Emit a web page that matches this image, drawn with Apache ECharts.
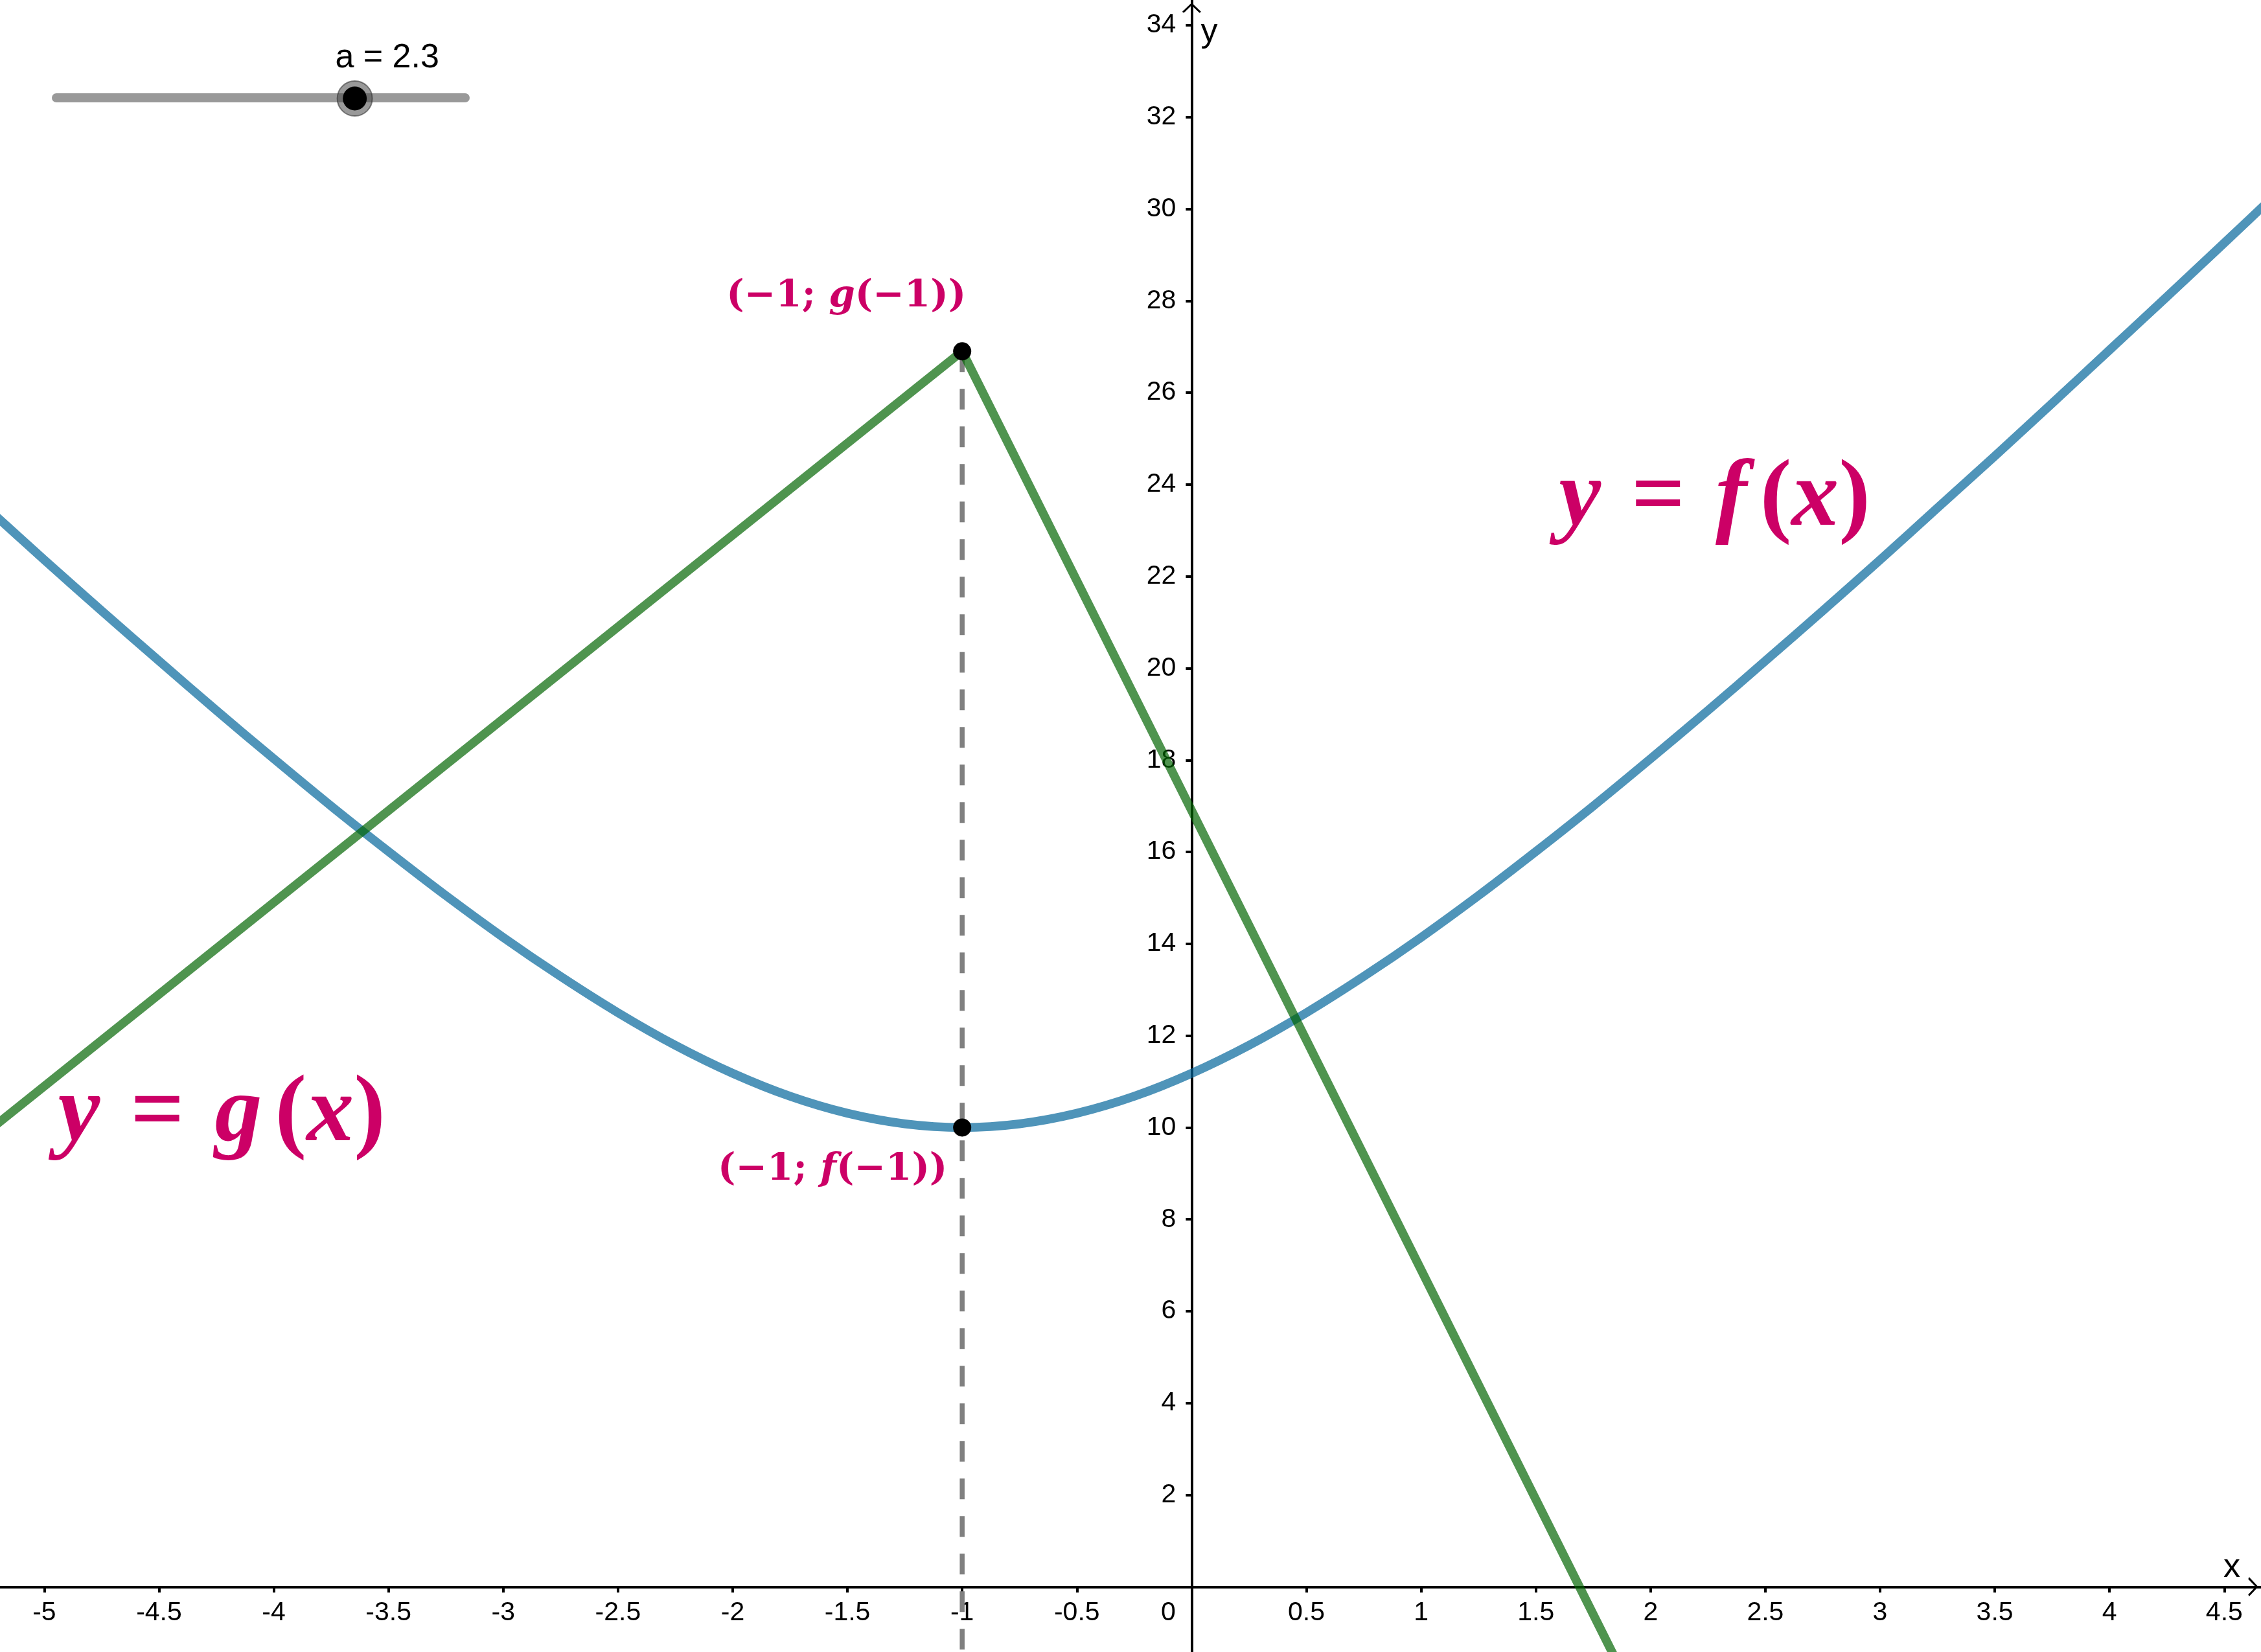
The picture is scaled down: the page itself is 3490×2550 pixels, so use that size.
<!DOCTYPE html>
<html><head><meta charset="utf-8">
<script src="https://cdn.jsdelivr.net/npm/echarts@6/dist/echarts.min.js"></script>
<style>html,body{margin:0;padding:0;background:#fff}#c{width:3490px;height:2550px}</style>
</head><body><div id="c"></div>
<script>
// ---- data ----
const xTicks = [-5,-4.5,-4,-3.5,-3,-2.5,-2,-1.5,-1,-0.5,0,0.5,1,1.5,2,2.5,3,3.5,4,4.5];
const yTicks = [2,4,6,8,10,12,14,16,18,20,22,24,26,28,30,32,34];
const xRange = [-5.193, 4.66];
const yRange = [-1.42, 34.55];
// f (blue curve)
const fX = [-5.25,-5,-4.75,-4.5,-4.25,-4,-3.75,-3.5,-3.25,-3,-2.75,-2.5,-2.25,-2,-1.75,-1.5,-1.25,-1,
            -0.75,-0.5,-0.25,0,0.25,0.5,0.75,1,1.25,1.5,1.75,2,2.25,2.5,2.75,3,3.25,3.5,3.75,4,4.25,4.5,4.75];
const fY = [23.49,22.36,21.25,20.16,19.08,18.03,17.00,16.01,15.05,14.14,13.29,12.5,11.79,11.18,10.68,10.31,10.08,10,
            10.08,10.31,10.68,11.18,11.79,12.5,13.29,14.14,15.05,16.01,17.00,18.03,19.08,20.16,21.25,22.36,23.49,24.62,25.77,26.93,28.09,29.26,30.44];
// g (green broken line)
const gX = [-5.5, -1, 2];
const gY = [8.9, 26.9, -3.1];
// highlighted points at x = -1
const ptX = [-1, -1];
const ptY = [26.9, 10];
const ptLabels = ['g', 'f'];
// curve name annotations (left end of each text)
const noteNames = ['f', 'g'];
const noteX = [1.60, -4.94];
const noteY = [23.65, 10.26];
// slider
const sliderMin = -5, sliderMax = 5, sliderValue = 2.3;

// ---- styles / layout ----
const W = 3490, H = 2550;
const MAG = '#cc0066';
const BLUE = 'rgb(0,100,154)';
const GREEN = 'rgb(0,100,0)';
const AX = {fontFamily: '"Liberation Sans", Arial, sans-serif', fontSize: 41, color: '#000'};
const chevron = 'path://M0,16 L17,0 L34,16 L30.5,17.5 L17,4.6 L3.5,17.5 Z';
// place the axes where the other axis is zero (axis offset from the grid edge)
const yAxisOffset = -W * (0 - xRange[0]) / (xRange[1] - xRange[0]);
const xAxisOffset = -H * (0 - yRange[0]) / (yRange[1] - yRange[0]);

const chart = echarts.init(document.getElementById('c'), null, {renderer: 'canvas'});

const sx1 = 87, sx2 = 718, sy = 151;
const knobX = sx1 + (sliderValue - sliderMin) / (sliderMax - sliderMin) * (sx2 - sx1);

const SERIF = '"Liberation Serif", "Times New Roman", serif';
const BIG = 146;

const option = {
  backgroundColor: '#fff',
  animation: false,
  grid: {left: 0, right: 0, top: 0, bottom: 0, containLabel: false, outerBoundsMode: 'none'},
  xAxis: {
    type: 'value', min: xRange[0], max: xRange[1], position: 'bottom', offset: xAxisOffset,
    name: 'x', nameLocation: 'end', nameGap: -58,
    nameTextStyle: {fontFamily: AX.fontFamily, fontSize: 52, color: '#000', align: 'left', verticalAlign: 'bottom', lineHeight: 60},
    axisLine: {onZero: false, lineStyle: {color: '#000', width: 4}, symbol: ['none', chevron], symbolSize: [30, 16], symbolOffset: [0, -12]},
    axisTick: {show: true, length: 9, lineStyle: {color: '#000', width: 4}, customValues: xTicks},
    axisLabel: Object.assign({}, AX, {
      margin: 20, customValues: xTicks,
      formatter: v => v === 0 ? '{z|0}' : String(v),
      rich: {z: {padding: [0, 72, 0, 0]}}
    }),
    splitLine: {show: false}
  },
  yAxis: {
    type: 'value', min: yRange[0], max: yRange[1], position: 'left', offset: yAxisOffset,
    name: 'y', nameLocation: 'end', nameGap: -20,
    nameTextStyle: {fontFamily: AX.fontFamily, fontSize: 52, color: '#000', align: 'left', verticalAlign: 'top', lineHeight: 60, padding: [0, 0, 0, 14]},
    axisLine: {onZero: false, lineStyle: {color: '#000', width: 4}, symbol: ['none', chevron], symbolSize: [30, 16], symbolOffset: [0, -12]},
    axisTick: {show: true, length: 9, lineStyle: {color: '#000', width: 4}, customValues: yTicks},
    axisLabel: Object.assign({}, AX, {margin: 24, customValues: yTicks}),
    splitLine: {show: false}
  },
  series: [
    {
      name: 'dash', type: 'line', silent: true, symbol: 'none', z: 2,
      data: [[ptX[0], ptY[0]], [ptX[0], yRange[0]]],
      lineStyle: {color: '#808080', width: 7.5, type: [32, 26]}
    },
    {
      name: 'f', type: 'line', symbol: 'none', z: 3, smooth: 0.3,
      data: fX.map((x, i) => [x, fY[i]]),
      lineStyle: {color: BLUE, width: 13.5, opacity: 0.69, cap: 'round', join: 'round'}
    },
    {
      name: 'g', type: 'line', symbol: 'none', z: 4,
      data: gX.map((x, i) => [x, gY[i]]),
      lineStyle: {color: GREEN, width: 13.5, opacity: 0.69, cap: 'round', join: 'round'}
    },
    {
      name: 'points', type: 'scatter', z: 6, symbolSize: 28,
      itemStyle: {color: '#000', opacity: 1},
      data: ptX.map((x, i) => ({
        value: [x, ptY[i]],
        label: {
          show: true, position: 'inside',
          offset: i === 0 ? [-179, -84] : [-200, 66],
          formatter: '{r|(−1; }{i|' + ptLabels[i] + '}{r|(−1))}'
        }
      })),
      label: {
        color: MAG,
        rich: {
          r: {fontFamily: '"DejaVu Serif", serif', fontWeight: 'bold', fontSize: 58, color: MAG},
          i: {fontFamily: '"DejaVu Serif", serif', fontWeight: 'bold', fontStyle: 'italic', fontSize: 58, color: MAG}
        }
      }
    },
    {
      name: 'notes', type: 'scatter', z: 7, symbol: 'circle', symbolSize: 1, silent: true,
      itemStyle: {color: 'rgba(255,255,255,0)'},
      data: noteX.map((x, i) => ({value: [x, noteY[i]], name: noteNames[i]})),
      label: {
        show: true, position: 'inside', align: 'left', verticalAlign: 'middle', opacity: 1,
        formatter: p => '{i|y}{s| }{r|=}{s| }{i|' + p.name + '}{t| }{r|(}{i|x}{r|)}',
        rich: {
          r: {fontFamily: SERIF, fontWeight: 'bold', fontSize: BIG, color: MAG},
          i: {fontFamily: SERIF, fontWeight: 'bold', fontStyle: 'italic', fontSize: BIG, color: MAG},
          s: {fontFamily: SERIF, fontSize: BIG, width: 47},
          t: {fontFamily: SERIF, fontSize: BIG, width: 20}
        }
      }
    }
  ],
  graphic: [
    {type: 'line', z: 100, shape: {x1: sx1, y1: sy, x2: sx2, y2: sy}, style: {stroke: '#999', lineWidth: 14, lineCap: 'round'}},
    {type: 'circle', z: 101, shape: {cx: knobX, cy: sy + 1, r: 27}, style: {fill: 'rgba(70,70,70,0.55)', stroke: 'rgba(50,50,50,0.6)', lineWidth: 2}},
    {type: 'circle', z: 102, shape: {cx: knobX, cy: sy + 1, r: 18.5}, style: {fill: '#000'}},
    {type: 'text', z: 103, x: knobX + 50, y: 116, style: {text: 'a = ' + sliderValue, fontFamily: '"Liberation Sans", Arial, sans-serif', fontSize: 52, fill: '#000', align: 'center', verticalAlign: 'bottom'}}
  ]
};
chart.setOption(option);
</script>
</body></html>
